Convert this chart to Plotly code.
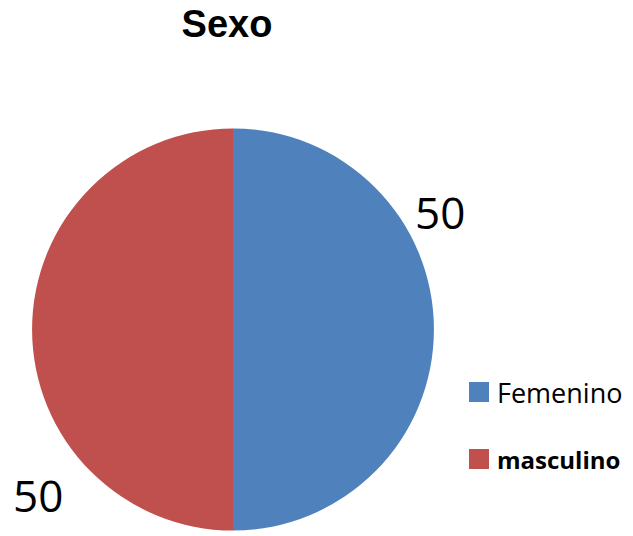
import plotly.graph_objects as go

# Data
labels = ["Femenino", "masculino"]
values = [50, 50]
colors = ["#4F81BD", "#C0504D"]

W, H = 633, 536
OFF = 8  # page body margin


def xp(px_):
    return (px_ - OFF) / W


def yp(py_):
    return 1 - (py_ - OFF) / H


fig = go.Figure()

fig.add_trace(go.Pie(
    labels=labels,
    values=values,
    marker=dict(colors=colors, line=dict(width=0)),
    textinfo="none",
    hoverinfo="label+value",
    sort=False,
    direction="clockwise",
    rotation=0,
    showlegend=False,
    domain=dict(x=[xp(32), xp(434)], y=[yp(531), yp(128)]),
))

# value labels, placed like the original
label_pos = [(440, 212), (38, 495)]
for v, (px_, py_) in zip(values, label_pos):
    fig.add_annotation(
        x=xp(px_), y=yp(py_), xref="paper", yref="paper",
        text=str(v), showarrow=False,
        font=dict(family="Open Sans, DejaVu Sans", size=44, color="black"),
        xanchor="center", yanchor="middle",
    )

# legend drawn by hand so the spacing matches
legend_y = [392, 459]
for i, (lab, col) in enumerate(zip(labels, colors)):
    cy = legend_y[i]
    fig.add_shape(
        type="rect", xref="paper", yref="paper",
        x0=xp(469), x1=xp(489), y0=yp(cy + 10), y1=yp(cy - 10),
        fillcolor=col, line=dict(width=0),
    )
    fig.add_annotation(
        x=xp(495), y=yp(cy), xref="paper", yref="paper",
        text=("<b>%s</b>" % lab) if i == 1 else lab, showarrow=False,
        font=dict(family="Open Sans, DejaVu Sans", size=(24 if i == 1 else 27), color="black"),
        xanchor="left", yanchor="middle",
    )

fig.update_layout(
    width=W, height=H,
    margin=dict(l=0, r=0, t=0, b=0),
    paper_bgcolor="white",
    plot_bgcolor="white",
    title=dict(
        text="<b>Sexo</b>",
        x=xp(227), xanchor="center",
        y=yp(24), yanchor="middle",
        font=dict(family="Liberation Sans, Arial", size=38, color="black"),
    ),
)

fig.write_html("out.html")
